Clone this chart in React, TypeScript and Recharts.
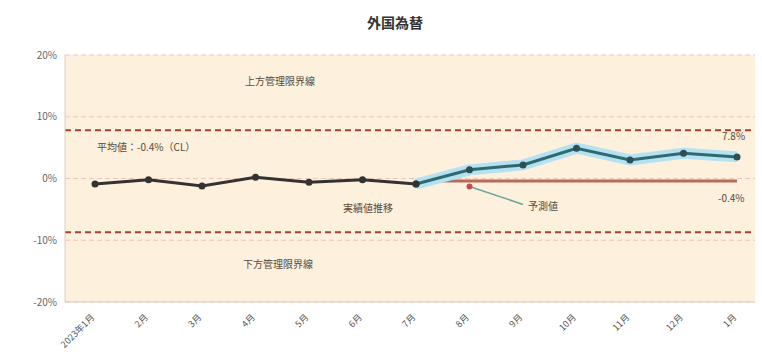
import {
  CartesianGrid,
  ComposedChart,
  Line,
  ReferenceDot,
  ReferenceLine,
  XAxis,
  YAxis,
} from "recharts";

const months = [
  "2023年1月", "2月", "3月", "4月", "5月", "6月", "7月",
  "8月", "9月", "10月", "11月", "12月", "1月",
];
const actual = [-0.9, -0.2, -1.2, 0.2, -0.6, -0.2, -0.9, null, null, null, null, null, null];
const forecast = [null, null, null, null, null, null, -0.9, 1.4, 2.2, 4.9, 3.0, 4.1, 3.5];
const meanLine = [null, null, null, null, null, null, -0.4, -0.4, -0.4, -0.4, -0.4, -0.4, -0.4];
const yTicks = [-20, -10, 0, 10, 20];
const ucl = 7.8;
const lcl = -8.7;

const data = months.map((m, i) => ({
  month: m,
  actual: actual[i],
  forecast: forecast[i],
  mean: meanLine[i],
}));

const font = "'Noto Sans CJK JP', 'Noto Sans', sans-serif";

const XTick = (props: any) => {
  const { x, y, payload } = props;
  return (
    <g transform={`translate(${x},${y + 8})`}>
      <text
        textAnchor="end"
        transform="rotate(-45)"
        fontSize={9}
        fill="#555"
        fontFamily={font}
      >
        {payload.value}
      </text>
    </g>
  );
};

const note = (left: number, top: number, text: string) => (
  <div
    style={{
      position: "absolute",
      left,
      top,
      fontSize: 10,
      color: "#5a4a3a",
      fontFamily: font,
      whiteSpace: "nowrap",
    }}
  >
    {text}
  </div>
);

export default function App() {
  return (
    <div style={{ position: "absolute", left: 0, top: 0, width: 762, height: 359, background: "#fff" }}>
      <div
        style={{
          position: "absolute",
          left: 0,
          width: 790,
          top: 12,
          textAlign: "center",
          fontSize: 14,
          fontWeight: 700,
          color: "#333",
          fontFamily: font,
        }}
      >
        外国為替
      </div>
      <ComposedChart
        width={762}
        height={359}
        data={data}
        margin={{ top: 55, right: 7, bottom: 7, left: 5 }}
      >
        <CartesianGrid
          vertical={false}
          stroke="#f3c6b4"
          strokeDasharray="5 3"
          fill="#fdf0dc"
          fillOpacity={1}
        />
        <XAxis
          dataKey="month"
          scale="point"
          padding={{ left: 30, right: 18 }}
          height={50}
          tick={<XTick />}
          tickLine={false}
          axisLine={{ stroke: "#d8d0c4" }}
          interval={0}
        />
        <YAxis
          width={60}
          domain={[-20, 20]}
          ticks={yTicks}
          tickFormatter={(v) => `${v}%`}
          tick={{ fill: "#666", fontSize: 10, fontFamily: font }}
          tickLine={false}
          axisLine={{ stroke: "#d8d0c4" }}
        />
        <ReferenceLine y={ucl} stroke="#a3402f" strokeWidth={2} strokeDasharray="6 4" />
        <ReferenceLine y={lcl} stroke="#a3402f" strokeWidth={2} strokeDasharray="6 4" />
        <Line
          dataKey="mean"
          stroke="#b56a5c"
          strokeWidth={3}
          dot={false}
          isAnimationActive={false}
        />
        <Line
          dataKey="forecast"
          stroke="#b4e2f2"
          strokeWidth={11}
          dot={false}
          isAnimationActive={false}
        />
        <Line
          dataKey="forecast"
          stroke="#2f6a70"
          strokeWidth={3}
          dot={{ r: 3.5, fill: "#2f4f55", stroke: "none" }}
          isAnimationActive={false}
        />
        <Line
          dataKey="actual"
          stroke="#333"
          strokeWidth={3}
          dot={{ r: 3.5, fill: "#333", stroke: "none" }}
          isAnimationActive={false}
        />
        <ReferenceLine
          segment={[
            { x: months[7], y: -1.3 },
            { x: months[8], y: -4.2 },
          ]}
          stroke="#6aa79a"
          strokeWidth={1.5}
        />
        <ReferenceDot x={months[7]} y={-1.3} r={3} fill="#c0504d" stroke="none" />
      </ComposedChart>
      {note(245, 73, "上方管理限界線")}
      {note(97, 139, "平均値：-0.4%（CL）")}
      {note(343, 200, "実績値推移")}
      {note(528, 198, "予測値")}
      {note(243, 256, "下方管理限界線")}
      {note(722, 128, "7.8%")}
      {note(718, 190, "-0.4%")}
    </div>
  );
}
